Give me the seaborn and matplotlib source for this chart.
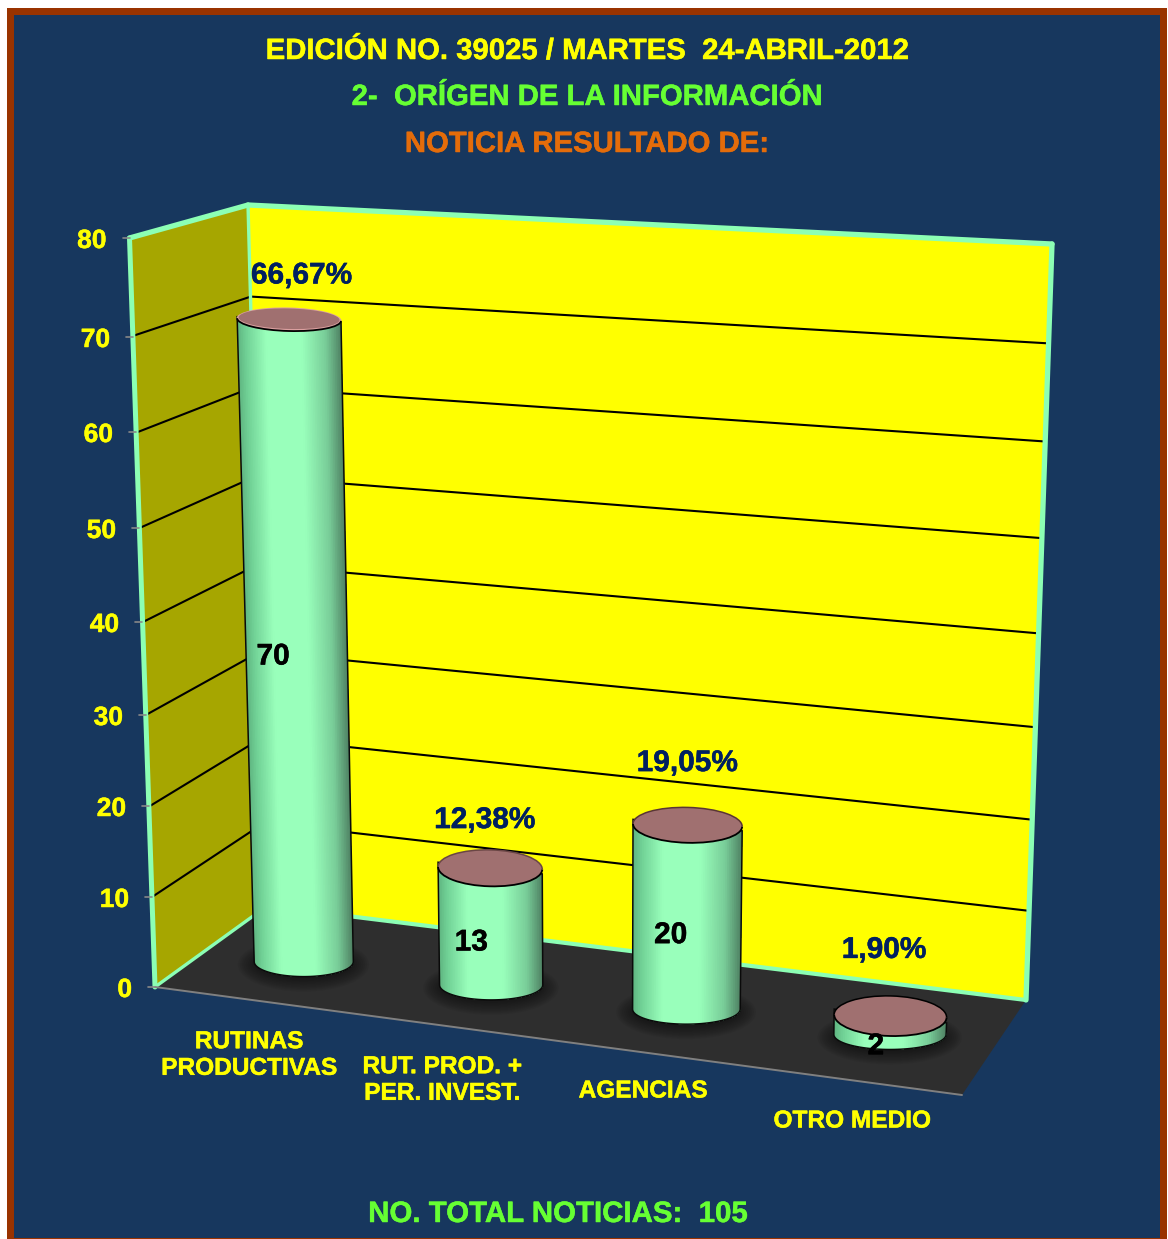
import numpy as np
import pandas as pd
import matplotlib
matplotlib.use("Agg")
import matplotlib.pyplot as plt
import matplotlib.patheffects as pe
from matplotlib.patches import Ellipse, Polygon, Rectangle, PathPatch, Arc
from matplotlib.path import Path
from matplotlib.transforms import Transform
import seaborn as sns

# ---------- data ----------
categories = ["RUTINAS\nPRODUCTIVAS", "RUT. PROD. +\nPER. INVEST.", "AGENCIAS", "OTRO MEDIO"]
values = [70, 13, 20, 2]
percent_labels = ["66,67%", "12,38%", "19,05%", "1,90%"]
y_ticks = [0, 10, 20, 30, 40, 50, 60, 70, 80]
title_lines = ["EDICIÓN NO. 39025 / MARTES  24-ABRIL-2012",
               "2-  ORÍGEN DE LA INFORMACIÓN",
               "NOTICIA RESULTADO DE:"]
footer = "NO. TOTAL NOTICIAS:  105"

# ---------- style ----------
W, H = 1168, 1239
NAVY, BROWN, MINT = "#17375E", "#993300", "#8CFFB4"
YELLOW, OLIVE, FLOOR = "#FFFF00", "#A6A600", "#2E2E2E"
CAP, DARKBLUE = "#A07070", "#002060"

sns.set_style("white")
plt.rcParams["font.family"] = ["Liberation Sans", "DejaVu Sans"]
plt.rcParams["font.weight"] = "bold"

# ---------- perspective calibration (plot units -> image pixels) ----------
def fit_h(src, dst):
    rows = []
    for (x, y), (u, v) in zip(src, dst):
        rows.append([x, y, 1, 0, 0, 0, -u * x, -u * y, -u])
        rows.append([0, 0, 0, x, y, 1, -v * x, -v * y, -v])
    a = np.array(rows, float)
    sx = a.max(axis=0) + 1e-9
    _, _, vt = np.linalg.svd(a / sx)
    return (vt[-1] / sx).reshape(3, 3)


class Proj(Transform):
    input_dims = output_dims = 2
    is_affine = False
    has_inverse = False

    def __init__(self, m):
        super().__init__()
        self.m = m

    def transform_non_affine(self, values):
        p = np.column_stack([np.asarray(values, float), np.ones(len(values))]) @ self.m.T
        return p[:, :2] / p[:, 2:3]

    def pt(self, x, y):
        return self.transform_non_affine(np.array([[x, y]]))[0]


BAR_W = 0.54
bar_src, bar_dst = [], []
for i, v, top, bot in [
    (0, 70, (236, 342, 320), (253, 353, 958)),
    (1, 13, (438, 543, 867), (440, 543, 985)),
    (2, 20, (634, 742, 825), (634, 739, 1008)),
    (3, 2, (836, 944, 1016), (836, 944, 1040)),
]:
    bar_src += [(i - BAR_W / 2, v), (i + BAR_W / 2, v), (i - BAR_W / 2, 0), (i + BAR_W / 2, 0)]
    bar_dst += [(top[0], top[2]), (top[1], top[2]), (bot[0], bot[2]), (bot[1], bot[2])]
P_bar = Proj(fit_h(bar_src, bar_dst))

wall_left = [(267, 906), (263, 822), (261.5, 738), (260, 653), (258, 565),
             (255.5, 476), (253, 387), (250, 296), (248, 205)]
wall_right = [(1026, 1000), (1027, 911), (1030, 820), (1033, 727), (1036, 633),
              (1040, 538), (1043, 441), (1046, 343), (1052, 244)]
back_src = [(-0.5, t) for t in y_ticks] + [(3.5, t) for t in y_ticks]
back_dst = wall_left + wall_right
P_back = Proj(fit_h(back_src, back_dst))

front_y = [987, 897, 806, 715, 622, 528, 432, 337, 238]
front_x = [155, 152, 149, 146, 142, 139, 136, 133, 129.5]
side_src = [(0, t) for t in y_ticks] + [(1, t) for t in y_ticks]
side_dst = list(zip(front_x, front_y)) + wall_left
P_side = Proj(fit_h(side_src, side_dst))

# ---------- canvas ----------
fig = plt.figure(figsize=(W / 100, H / 100), dpi=100, facecolor="white")
ax = fig.add_axes([0, 0, 1, 1])
x_pos = np.arange(len(values), dtype=float)
frame = pd.DataFrame({"pos": x_pos, "value": values})

def fix_view():
    ax.set_xlim(0, W)
    ax.set_ylim(H, 0)
    ax.set_axis_off()

fix_view()
ax.add_patch(Rectangle((7, 8), 1160, 1240, fc=BROWN, ec=BROWN, lw=0, zorder=0))
ax.add_patch(Rectangle((14, 15), 1146, 1223, fc=NAVY, ec="none", zorder=0.1))

# walls and floor
c_fl, c_ft = side_dst[0], side_dst[len(y_ticks) - 1]
c_bl, c_tl = wall_left[0], wall_left[-1]
c_br, c_tr = wall_right[0], wall_right[-1]
floor_front = (962, 1095)
floor = Polygon([c_fl, c_bl, c_br, floor_front], fc=FLOOR, ec="none", zorder=1)
ax.add_patch(floor)
ax.add_patch(Polygon([c_bl, c_br, c_tr, c_tl], fc=YELLOW, ec="none", zorder=1))
ax.add_patch(Polygon([c_fl, c_bl, c_tl, c_ft], fc=OLIVE, ec="none", zorder=1))

# gridlines on back and side wall
back_tf = Proj(P_back.m) + ax.transData
side_tf = Proj(P_side.m) + ax.transData
for t in y_ticks[1:-1]:
    ax.plot([-0.5, 3.5], [t, t], color="black", lw=1.5, transform=back_tf, zorder=2, clip_on=False)
    ax.plot([0, 1], [t, t], color="black", lw=1.5, transform=side_tf, zorder=2, clip_on=False)

# wall borders
for a, b, lw in [(c_ft, c_tl, 3.8), (c_tl, c_tr, 3.8), (c_tr, c_br, 3.8), (c_br, c_bl, 3.0),
                 (c_bl, c_fl, 2.4), (c_fl, c_ft, 3.6), (c_tl, c_bl, 2.4)]:
    ax.plot([a[0], b[0]], [a[1], b[1]], color=MINT, lw=lw, zorder=3, solid_capstyle="round")
ax.plot([c_fl[0], floor_front[0]], [c_fl[1], floor_front[1]], color="#808080", lw=1.4, zorder=3)

# shared text helper
STROKE = 0.35

def label(tx, ty, s, color, size, **kw):
    return ax.text(tx, ty, s, color=color, fontsize=size, ha=kw.pop("ha", "center"), va="center",
                   zorder=9, path_effects=[pe.withStroke(linewidth=STROKE, foreground=color)], **kw)

# ticks on front edge
for t, (tx, ty) in zip(y_ticks, side_dst[:len(y_ticks)]):
    ax.plot([tx - 7, tx], [ty, ty], color="#888888", lw=1.2, zorder=3)
    label(tx - 23, ty + 3, str(t), YELLOW, 19, ha="right")

# floor shadows
for x in x_pos:
    cx, cy = P_bar.pt(x, 0)
    bw = P_bar.pt(x + BAR_W / 2, 0)[0] - P_bar.pt(x - BAR_W / 2, 0)[0]
    for k in range(9):
        s = Ellipse((cx, cy + 3), bw + 32 - k * 4, 54 - k * 3, fc="black", ec="none",
                    alpha=0.05, zorder=3.5)
        ax.add_patch(s)
        s.set_clip_path(floor)

# ---------- cylinders drawn from seaborn bars ----------
bar_tf = Proj(P_bar.m) + ax.transData
BOTTOM_H = 30.0
TILT = 1.5

def cap_height(y_px):
    return 23 + (y_px - 320) * 0.0245

outlines = []
for x, v in zip(x_pos, values):
    tl, tr = P_bar.pt(x - BAR_W / 2, v), P_bar.pt(x + BAR_W / 2, v)
    bl, br = P_bar.pt(x - BAR_W / 2, 0), P_bar.pt(x + BAR_W / 2, 0)
    c, a = (bl + br) / 2, (br[0] - bl[0]) / 2
    th = np.linspace(0, np.pi, 60)
    arc = np.column_stack([c[0] + a * np.cos(th), c[1] + BOTTOM_H / 2 * np.sin(th)])
    verts = np.vstack([tl, tr, arc, tl])
    outlines.append(Path(verts, closed=True))

stops_u = [0.0, 0.08, 0.28, 0.62, 0.85, 1.0]
stops_c = np.array([[0x5F, 0xB5, 0x80], [0x70, 0xD0, 0x95], [0x99, 0xFF, 0xBB],
                    [0x99, 0xFF, 0xBB], [0x78, 0xCC, 0x98], [0x4E, 0x80, 0x62]]) / 255
N_STRIP = 60
for s in range(N_STRIP):
    u0 = s / N_STRIP
    col = [np.interp(u0 + 0.5 / N_STRIP, stops_u, stops_c[:, ch]) for ch in range(3)]
    span = (1 - u0) * BAR_W
    strip = frame.assign(pos=frame["pos"] - BAR_W / 2 + u0 * BAR_W + span / 2)
    before = len(ax.patches)
    sns.barplot(data=strip, x="pos", y="value", native_scale=True, width=span, color=col,
                saturation=1, errorbar=None, linewidth=0, ax=ax, zorder=4 + s * 0.001)
    for rect, outline in zip(ax.patches[before:], outlines):
        rect.set_y(-4)
        rect.set_height(rect.get_height() + 4)
        rect.set_transform(bar_tf)
        rect.set_clip_path(outline, ax.transData)
fix_view()

for path in outlines:
    ax.add_patch(PathPatch(path, fc="none", ec="#0A0A0A", lw=1.1, zorder=5))

cap_upper = [None, "#6A4545", "#5A3535", "black"]
for i, (x, v) in enumerate(zip(x_pos, values)):
    tl, tr = P_bar.pt(x - BAR_W / 2, v), P_bar.pt(x + BAR_W / 2, v)
    c = (tl + tr) / 2
    w_px, h_px = tr[0] - tl[0], cap_height(c[1])
    if i == 0:
        ax.add_patch(Ellipse(c, w_px + 1, h_px + 1, angle=TILT, fc="#DCA0A0", ec="none", zorder=6))
        ax.add_patch(Ellipse(c + [0, -0.8], w_px - 3, h_px - 2.5, angle=TILT, fc=CAP, ec="none", zorder=6.1))
    else:
        ax.add_patch(Ellipse(c, w_px, h_px, angle=TILT, fc=CAP, ec="none", zorder=6))
    ax.add_patch(Arc(c, w_px, h_px, angle=TILT, theta1=0, theta2=180, ec="black", lw=1.3, zorder=6.2))
    if cap_upper[i]:
        ax.add_patch(Arc(c, w_px, h_px, angle=TILT, theta1=180, theta2=360, ec=cap_upper[i], lw=1.1, zorder=6.2))

# ---------- labels ----------
value_offset = [(-23, 16), (-19, 16), (-16, 18), (-14, 21)]
pct_offset = [(13, -44), (-5, -48), (0, -62), (-6, -66)]
for x, v, pct, vo, po in zip(x_pos, values, percent_labels, value_offset, pct_offset):
    mid = (P_bar.pt(x, 0) + P_bar.pt(x, v)) / 2
    label(mid[0] + vo[0], mid[1] + vo[1], str(v), "black", 21.5)
    top = P_bar.pt(x, v)
    label(top[0] + po[0], top[1] + po[1], pct, DARKBLUE, 21.5)

cat_xy = [(249, 1055), (442, 1080), (643, 1091), (852, 1121)]
for name, (tx, ty) in zip(categories, cat_xy):
    label(tx, ty, name, YELLOW, 17.6, linespacing=1.2)

for line, color, ty in zip(title_lines, [YELLOW, "#66FF33", "#E46C0A"], [51, 97, 144]):
    label(587, ty, line, color, 21.1)
label(558, 1214, footer, "#66FF33", 21.2)

fig.savefig("out.png", dpi=100, facecolor="white")
